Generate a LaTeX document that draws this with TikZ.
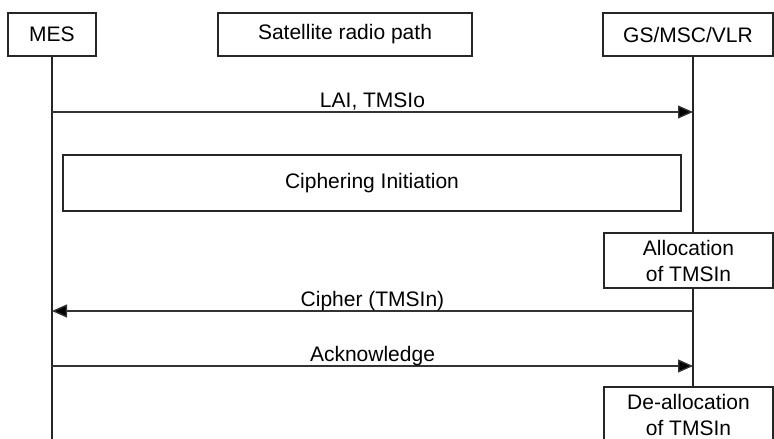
\documentclass[tikz,border=0pt]{standalone}
\usepackage{fontspec}
\setmainfont{Liberation Sans}
\usetikzlibrary{arrows.meta}

\begin{document}
\begin{tikzpicture}[
  x=1pt,
  y=-1pt,
  line join=miter,
  font=\fontsize{21}{26}\selectfont,
  entity/.style={
    draw=black!85,
    line width=1.2pt,
    fill=white,
    minimum height=43pt,
    inner sep=0pt,
    align=center
  },
  action/.style={
    draw=black!85,
    line width=1.2pt,
    fill=white,
    minimum width=169pt,
    minimum height=55pt,
    inner sep=0pt,
    align=center
  },
  lifeline/.style={
    line width=1.2pt,
    draw=black!85
  },
  msg/.style={
    -{Triangle[length=15pt,width=13pt]},
    line width=1.3pt,
    draw=black!80,
    fill=black
  },
  msglabel/.style={
    anchor=base,
    inner sep=0pt
  }
]

\useasboundingbox (0,0) rectangle (774,439);

% =========================================================
% Entities
% =========================================================

\node[entity, minimum width=88pt] (mes) at (52,34.5) {MES};

\node[entity, minimum width=254pt] (sat) at (345,34.5)
{Satellite radio path};

\node[entity, minimum width=170pt] (gs) at (688,34.5) {GS/MSC/VLR};

% lifeline positions
\coordinate (mx) at (52,0);
\coordinate (gx) at (693,0);
\coordinate (mend) at (52,439);

% ---------------- Procedures ----------------

\node[entity, minimum width=618pt, minimum height=56pt] (ciph) at (372,183)
{Ciphering Initiation};

\node[action] (alloc) at (688.5,260.5)
{Allocation\\of TMSIn};

\node[action] (dealloc) at (688.5,414.5)
{De-allocation\\of TMSIn};

% ---------------- Lifelines ----------------

\draw[lifeline] (mes.south) -- (mend);
\draw[lifeline] (gx |- gs.south) -- (gx |- alloc.north);
\draw[lifeline] (gx |- alloc.south) -- (gx |- dealloc.north);

% =========================================================
% Messages
% =========================================================

\coordinate (m1) at (52,112);
\coordinate (g1) at (693,112);
\coordinate (m2) at (52,311);
\coordinate (g2) at (693,311);
\coordinate (m3) at (52,366);
\coordinate (g3) at (693,366);

\draw[msg, -{Triangle[length=15pt,width=13pt,fill=black]}] (m1) -- (g1);
\node[msglabel] (lai) at (372.5,107) {LAI, TMSIo};

\draw[msg, -{Triangle[length=15pt,width=13pt,fill=black]}] (g2) -- (m2);
\node[msglabel] (cipher) at (372.5,306) {Cipher (TMSIn)};

\draw[msg, -{Triangle[length=15pt,width=13pt,fill=black]}] (m3) -- (g3);
\node[msglabel] (ack) at (372.5,361) {Acknowledge};

\end{tikzpicture}
\end{document}
